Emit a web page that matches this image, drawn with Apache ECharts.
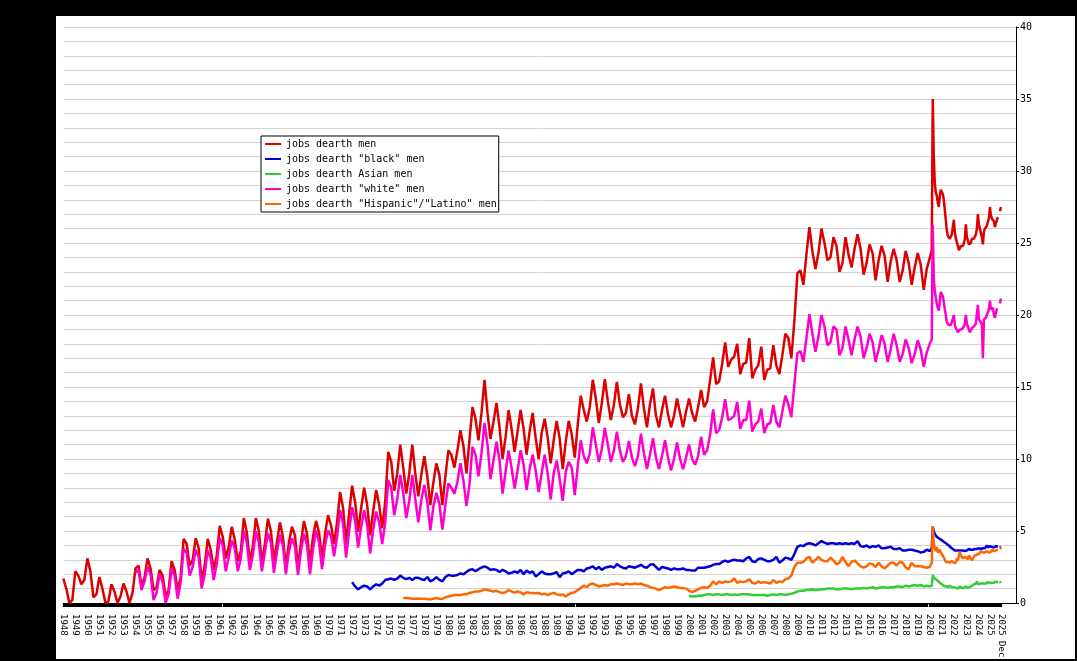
<!DOCTYPE html>
<html><head><meta charset="utf-8">
<script src="https://cdn.jsdelivr.net/npm/echarts@6/dist/echarts.min.js"></script>
<style>
html,body{margin:0;padding:0;background:#000;width:1077px;height:661px;overflow:hidden}
#panel{position:absolute;left:56px;top:16px;width:1019px;height:643px;background:#fff}
#chart{width:1019px;height:643px}
</style></head><body><div id="panel"><div id="chart"></div></div>
<script>
// ---- axis definitions ----
const FIRST_YEAR = 1948;
const LAST_YEAR = 2025;
const PAD_MONTHS = 15;
const quarterMonths = [0, 3, 6, 9];      // Jan, Apr, Jul, Oct samples
const monthlyFromYear = 2020;             // monthly samples from Jan 2020 on
const yTicks = [0, 5, 10, 15, 20, 25, 30, 35, 40];

const seriesNames = [
  'jobs dearth men',
  'jobs dearth "black" men',
  'jobs dearth Asian men',
  'jobs dearth "white" men',
  'jobs dearth "Hispanic"/"Latino" men'
];
const seriesColors = ['#dd0000', '#0000dd', '#33cc33', '#ff00cc', '#ff6600'];

// ---- men (all) ----
const menStart = 1948;
const menQuarterly = [
  1.7, 1.0, 0, 0.2,
  2.2, 1.9, 1.3, 1.6,
  3.1, 2.2, 0.4, 0.6,
  1.8, 1.0, 0, 0.1,
  1.3, 0.8, 0, 0.45,
  1.35, 0.8, 0, 0.7,
  2.4, 2.6, 1.2, 1.75,
  3.1, 2.4, 0.9, 1.1,
  2.3, 1.9, 0.5, 0.9,
  2.9, 2.3, 0.9, 1.8,
  4.45, 4.1, 2.6, 3.0,
  4.5, 3.8, 1.5, 2.6,
  4.45, 3.7, 2.3, 3.3,
  5.35, 4.6, 3.1, 3.9,
  5.3, 4.4, 2.9, 3.6,
  5.9, 4.9, 2.9, 3.9,
  5.9, 5.0, 2.8, 4.1,
  5.85, 5.0, 2.9, 4.2,
  5.6, 4.6, 2.5, 4.2,
  5.3, 4.7, 2.5, 4.2,
  5.7, 4.8, 2.7, 4.6,
  5.7, 4.9, 3.1, 4.8,
  6.1, 5.4, 4.1, 5.6,
  7.7, 6.6, 4.1, 6.2,
  8.15, 7.0, 4.95, 6.6,
  8.0, 6.8, 4.7, 6.4,
  7.85, 6.8, 5.2, 7.0,
  10.5, 9.8, 7.8, 9.0,
  11.0, 9.4, 7.6, 9.0,
  11.0, 9.0, 7.4, 8.9,
  10.2, 8.8, 6.8, 8.35,
  9.7, 8.9, 6.8, 8.8,
  10.6, 10.3, 9.4, 10.6,
  12.0, 10.9, 9.0, 11.3,
  13.6, 12.8, 11.3, 13.2,
  15.5, 13.2, 11.4, 12.6,
  13.9, 12.2, 10.0, 11.5,
  13.4, 12.1, 10.5, 11.9,
  13.4, 12.1, 10.3, 11.9,
  13.2, 11.5, 10.0, 11.8,
  12.8, 11.5, 9.7, 11.3,
  12.65, 11.4, 9.3, 11.2,
  12.65, 11.7, 10.1, 12.4,
  14.4, 13.4, 12.6, 13.6,
  15.5, 14.2, 12.5, 13.9,
  15.55, 14.0, 12.7, 13.75,
  15.35, 13.8, 12.9, 13.2,
  14.5, 13.0, 12.4, 13.5,
  15.25, 13.5, 12.2, 13.8,
  14.9, 13.0, 12.2, 13.4,
  14.4, 13.1, 12.2, 13.0,
  14.2, 13.2, 12.2, 13.3,
  14.2, 13.2, 12.6, 13.6,
  14.8, 13.6, 14.0, 15.5,
  17.05, 15.2, 15.4, 16.6,
  18.1, 16.4, 16.9, 17.1,
  18.0, 15.9, 16.6, 16.7,
  18.4, 15.6, 16.2, 16.5,
  17.8, 15.5, 16.2, 16.3,
  17.9, 16.5, 15.9, 17.2,
  18.7, 18.4, 17.0, 19.6,
  22.9, 23.1, 22.1, 24.2,
  26.1, 24.4, 23.2, 24.3,
  26.0, 25.0, 23.8, 24.0,
  25.4, 24.8, 23.0, 23.6,
  25.4, 24.2, 23.3, 24.6,
  25.6, 24.6, 22.8, 23.6,
  24.9, 24.3, 22.4, 23.8,
  24.8, 24.1, 22.3, 23.7,
  24.6, 23.8, 22.3, 23.1,
  24.45, 23.6, 22.1, 23.3,
  24.3, 23.5, 21.75, 23.2
];
const menMonthly = [
  23.95, 23.9, 24.5, 35.0, 31.0, 29.2, 28.5, 28.3, 27.8, 27.5, 28.2, 28.7,
  28.7, 28.4, 28.0, 27.3, 26.6, 25.9, 25.5, 25.6, 25.3, 25.3, 25.6, 25.6,
  26.6, 25.8, 25.3, 25.2, 24.8, 24.5, 24.4, 24.8, 24.9, 24.8, 25.0, 25.3,
  26.3, 25.4, 25.2, 24.9, 25.0, 25.0, 25.3, 25.2, 25.3, 25.4, 25.6, 26.0,
  27.0, 26.3, 26.0, 25.9, 25.4, 24.9, 25.8, 26.0, 26.1, 26.2, 26.5, 26.7,
  27.5, 26.9, 26.7, 26.8, 26.5, 26.1, 26.4, 26.6, 26.8, null, 27.2, 27.5
];

// ---- "black" men ----
const blackStart = 1972;
const blackQuarterly = [
  1.45, 1.15, 0.95, 1.1,
  1.2, 1.15, 0.95, 1.15,
  1.3, 1.2, 1.35, 1.6,
  1.65, 1.7, 1.6, 1.7,
  1.9, 1.75, 1.65, 1.75,
  1.6, 1.75, 1.75, 1.65,
  1.6, 1.8, 1.5, 1.6,
  1.8, 1.6, 1.5, 1.8,
  1.95, 1.9, 1.9, 1.95,
  2.05, 2.0, 2.15, 2.3,
  2.35, 2.2, 2.35, 2.45,
  2.55, 2.45, 2.3, 2.35,
  2.3, 2.15, 2.3, 2.2,
  2.05, 2.1, 2.2, 2.1,
  2.3, 2.0, 2.25, 2.1,
  2.2, 1.85, 2.0, 2.2,
  2.05, 2.0, 2.0, 2.05,
  2.15, 1.8, 2.05, 2.1,
  2.2, 2.0, 2.15, 2.3,
  2.3, 2.2, 2.4, 2.45,
  2.55, 2.35, 2.5, 2.3,
  2.45, 2.5, 2.55, 2.45,
  2.7, 2.55, 2.45, 2.4,
  2.55, 2.5, 2.45, 2.55,
  2.65, 2.5, 2.45, 2.65,
  2.7, 2.5, 2.3, 2.5,
  2.45, 2.4, 2.3, 2.4,
  2.35, 2.35, 2.4, 2.3,
  2.3, 2.25, 2.25, 2.45,
  2.45, 2.45, 2.5, 2.55,
  2.65, 2.7, 2.7, 2.85,
  2.95, 2.85, 2.95, 3.0,
  2.95, 2.95, 2.9, 3.1,
  3.2, 2.9, 2.85, 3.05,
  3.1, 3.0, 2.9, 2.9,
  3.0, 3.2, 2.8, 2.95,
  3.15, 3.1, 3.0, 3.4,
  3.9, 4.0, 3.95, 4.1,
  4.15, 4.1, 4.0, 4.15,
  4.3, 4.2, 4.1, 4.15,
  4.15, 4.1, 4.15, 4.1,
  4.15, 4.1, 4.15, 4.1,
  4.3, 3.95, 3.9, 4.0,
  3.85, 3.95, 3.9, 4.0,
  3.8, 3.8, 3.85, 3.9,
  3.75, 3.75, 3.8, 3.65,
  3.65, 3.7, 3.7, 3.65,
  3.6, 3.5, 3.55, 3.7
];
const blackMonthly = [
  3.6, 3.55, 3.8, 5.3, 5.0, 4.8, 4.7, 4.6, 4.55, 4.5, 4.45, 4.4,
  4.35, 4.3, 4.25, 4.2, 4.15, 4.1, 4.05, 4.0, 3.9, 3.85, 3.8, 3.75,
  3.7, 3.65, 3.7, 3.65, 3.6, 3.65, 3.7, 3.65, 3.7, 3.65, 3.7, 3.6,
  3.7, 3.65, 3.7, 3.75, 3.65, 3.7, 3.75, 3.7, 3.7, 3.75, 3.7, 3.75,
  3.7, 3.8, 3.7, 3.75, 3.7, 3.8, 3.75, 3.8, 3.9, 4.0, 3.85, 3.8,
  3.95, 3.85, 3.9, 3.9, 3.85, 3.9, 3.95, 3.85, 3.9, null, 3.85, 3.9
];

// ---- Asian men ----
const asianStart = 2000;
const asianQuarterly = [
  0.5, 0.45, 0.45, 0.5,
  0.5, 0.55, 0.6, 0.6,
  0.55, 0.6, 0.6, 0.55,
  0.6, 0.6, 0.55, 0.6,
  0.55, 0.6, 0.6, 0.6,
  0.6, 0.55, 0.55, 0.55,
  0.55, 0.55, 0.5, 0.55,
  0.6, 0.55, 0.6, 0.6,
  0.55, 0.6, 0.65, 0.7,
  0.8, 0.85, 0.85, 0.9,
  0.9, 0.95, 0.9, 0.9,
  0.95, 0.95, 1.0, 1.0,
  1.0, 0.95, 0.95, 1.0,
  1.0, 1.0, 0.95, 1.0,
  1.0, 1.0, 1.05, 1.0,
  1.05, 1.1, 1.0, 1.05,
  1.1, 1.1, 1.05, 1.1,
  1.1, 1.15, 1.15, 1.1,
  1.2, 1.15, 1.2, 1.25,
  1.2, 1.25, 1.15, 1.2
];
const asianMonthly = [
  1.15, 1.1, 1.2, 1.95, 1.75, 1.7, 1.65, 1.6, 1.55, 1.5, 1.4, 1.35,
  1.3, 1.25, 1.2, 1.15, 1.15, 1.1, 1.1, 1.15, 1.2, 1.15, 1.1, 1.15,
  1.1, 1.0, 1.05, 1.1, 1.0, 1.05, 1.15, 1.1, 1.05, 1.0, 1.05, 1.1,
  1.15, 1.1, 1.05, 1.0, 1.1, 1.15, 1.2, 1.25, 1.3, 1.3, 1.35, 1.5,
  1.3, 1.4, 1.35, 1.3, 1.35, 1.4, 1.35, 1.4, 1.35, 1.4, 1.45, 1.4,
  1.4, 1.45, 1.4, 1.35, 1.4, 1.45, 1.5, 1.45, 1.4, null, 1.5, 1.4
];

// ---- "white" men ----
const whiteStart = 1954;
const whiteQuarterly = [
  2.1, 2.3, 0.9, 1.5,
  2.5, 2.0, 0.2, 0.7,
  2.0, 1.5, 0.0, 0.6,
  2.4, 1.9, 0.3, 1.4,
  3.75, 3.5, 1.9, 2.5,
  3.7, 3.2, 1.0, 2.0,
  3.65, 3.1, 1.6, 2.7,
  4.5, 4.0, 2.2, 3.2,
  4.35, 3.8, 2.2, 3.1,
  5.0, 4.2, 2.3, 3.3,
  5.0, 4.2, 2.2, 3.5,
  4.85, 4.2, 2.1, 3.5,
  4.75, 4.0, 2.0, 3.6,
  4.5, 3.9, 1.95, 3.6,
  4.8, 4.0, 2.0, 3.7,
  5.05, 4.2, 2.35, 4.0,
  5.05, 4.6, 3.25, 4.6,
  6.45, 5.5, 3.15, 5.0,
  6.65, 5.7, 3.85, 5.3,
  6.45, 5.4, 3.45, 5.1,
  6.35, 5.6, 4.1, 5.6,
  8.55, 8.0, 6.1, 7.2,
  8.9, 7.6, 5.9, 7.1,
  8.9, 7.2, 5.6, 7.15,
  8.2, 7.0, 5.05, 6.7,
  7.65, 6.9, 5.1, 6.8,
  8.3, 8.0, 7.6, 8.4,
  9.7, 8.5, 6.75, 8.2,
  10.85, 10.3, 8.8, 10.4,
  12.5, 11.0, 8.6, 9.9,
  11.2, 9.9, 7.6, 9.1,
  10.6, 9.4, 7.95, 9.2,
  10.6, 9.6, 7.85, 9.3,
  10.3, 9.2, 7.7, 9.0,
  10.3, 9.0, 7.2, 9.0,
  9.9, 8.6, 7.1, 9.1,
  9.8, 9.4, 7.5, 9.5,
  11.3, 10.2, 9.7, 10.4,
  12.2, 11.0, 9.8, 10.7,
  12.15, 11.0, 9.8, 10.6,
  11.9, 10.6, 9.8, 10.2,
  11.25, 10.1, 9.5, 10.2,
  11.75, 10.4, 9.3, 10.3,
  11.45, 10.1, 9.3, 10.2,
  11.3, 10.1, 9.2, 10.0,
  11.15, 10.0, 9.3, 10.1,
  11.0, 10.0, 9.6, 10.2,
  11.55, 10.3, 10.6, 11.7,
  13.45, 11.8, 12.0, 12.9,
  14.15, 12.7, 12.8, 13.0,
  13.95, 12.1, 12.7, 12.7,
  14.05, 11.9, 12.4, 12.6,
  13.5, 11.8, 12.4, 12.5,
  13.75, 12.6, 12.2, 13.3,
  14.4, 13.8, 12.9, 15.2,
  17.35, 17.5, 16.75, 18.4,
  20.05, 18.7, 17.45, 18.5,
  20.0, 19.2, 17.9, 18.1,
  19.2, 19.0, 17.2, 17.7,
  19.2, 18.3, 17.2, 18.3,
  19.2, 18.5, 17.0, 17.7,
  18.7, 18.1, 16.75, 17.6,
  18.6, 18.0, 16.75, 17.6,
  18.7, 17.9, 16.75, 17.3,
  18.3, 17.7, 16.65, 17.3,
  18.25, 17.6, 16.4, 17.4
];
const whiteMonthly = [
  18.0, 17.9, 18.3, 26.25, 22.5, 21.7, 21.2, 20.8, 20.5, 20.3, 20.9, 21.6,
  21.7, 21.3, 20.9, 20.4, 20.0, 19.5, 19.4, 19.3, 19.2, 19.3, 19.5, 19.6,
  20.0, 19.3, 19.1, 19.2, 18.8, 18.7, 19.0, 19.1, 19.0, 19.1, 19.2, 19.4,
  20.0, 19.4, 19.2, 19.0, 18.8, 18.7, 19.1, 19.2, 19.2, 19.3, 19.4, 19.5,
  20.7, 19.7, 19.6, 19.5, 19.3, 17.0, 19.7, 19.6, 19.8, 20.0, 20.1, 20.4,
  21.0, 20.4, 20.5, 20.5, 20.0, 19.8, 20.2, 20.4, 20.4, null, 20.8, 21.15
];

// ---- "Hispanic"/"Latino" men ----
const hispanicStart = 1976;
const hispanicQuarterly = [
  null, 0.35, 0.35, 0.33,
  0.3, 0.3, 0.32, 0.3,
  0.3, 0.27, 0.25, 0.3,
  0.35, 0.3, 0.28, 0.4,
  0.45, 0.5, 0.55, 0.55,
  0.55, 0.6, 0.6, 0.7,
  0.75, 0.8, 0.8, 0.85,
  0.95, 0.9, 0.85, 0.8,
  0.85, 0.75, 0.7, 0.75,
  0.9, 0.8, 0.72, 0.8,
  0.75, 0.6, 0.75, 0.72,
  0.7, 0.68, 0.7, 0.6,
  0.65, 0.55, 0.65, 0.7,
  0.6, 0.55, 0.6, 0.45,
  0.6, 0.7, 0.75, 0.9,
  1.05, 1.2, 1.1, 1.3,
  1.35, 1.25, 1.15, 1.2,
  1.25, 1.2, 1.3, 1.3,
  1.35, 1.3, 1.25, 1.35,
  1.3, 1.3, 1.35, 1.3,
  1.35, 1.25, 1.2, 1.1,
  1.05, 1.0, 0.9, 1.0,
  1.1, 1.05, 1.1, 1.15,
  1.1, 1.05, 1.05, 1.0,
  0.85, 0.75, 0.85, 0.95,
  1.05, 1.1, 1.05, 1.2,
  1.5, 1.3, 1.5, 1.4,
  1.5, 1.45, 1.5, 1.7,
  1.4, 1.5, 1.45, 1.5,
  1.65, 1.4, 1.35, 1.5,
  1.4, 1.45, 1.4, 1.35,
  1.6, 1.4, 1.5, 1.45,
  1.65, 1.7, 1.9, 2.5,
  2.8, 2.8, 2.85, 3.1,
  3.2, 2.8, 3.0, 3.2,
  3.0, 2.9, 2.9, 3.15,
  2.95, 2.7, 2.8, 3.2,
  2.85, 2.55, 2.85, 2.95,
  2.75, 2.55, 2.45, 2.55,
  2.75, 2.7, 2.5, 2.8,
  2.55, 2.4, 2.6, 2.8,
  2.8, 2.6, 2.85, 2.8,
  2.45, 2.35, 2.8, 2.55,
  2.55, 2.55, 2.5, 2.45
];
const hispanicMonthly = [
  2.5, 2.45, 2.8, 5.35, 4.2, 3.8, 3.6, 3.9, 3.5, 3.45, 3.7, 3.5,
  3.4, 3.3, 3.2, 3.0, 2.85, 2.8, 2.85, 2.9, 2.8, 2.75, 2.9, 3.0,
  2.8, 2.75, 2.8, 3.1, 2.95, 2.85, 3.55, 3.3, 3.25, 3.1, 3.0, 3.2,
  3.25, 3.15, 3.0, 3.3, 3.4, 3.1, 2.95, 3.1, 3.2, 3.3, 3.25, 3.35,
  3.45, 3.4, 3.4, 3.6, 3.7, 3.5, 3.45, 3.5, 3.55, 3.6, 3.65, 3.5,
  3.6, 3.55, 3.7, 3.65, 3.6, 3.55, 3.65, 3.75, 3.7, null, 3.75, 3.85
];

// ---- build categories (one per month) ----
const nMonths = (LAST_YEAR - FIRST_YEAR + 1) * 12;
const categories = [];
for (let i = 0; i < nMonths + PAD_MONTHS; i++) {
  if (i < nMonths) {
    const y = FIRST_YEAR + Math.floor(i / 12);
    const m = i % 12 + 1;
    categories.push(y + '-' + (m < 10 ? '0' + m : m));
  } else {
    categories.push('pad' + i);
  }
}
function buildData(startYear, quarterly, monthly) {
  const pts = [];
  quarterly.forEach((v, i) => {
    const yr = startYear + Math.floor(i / 4);
    const idx = (yr - FIRST_YEAR) * 12 + quarterMonths[i % 4];
    pts.push([idx, v === null ? '-' : v]);
  });
  monthly.forEach((v, i) => {
    const idx = (monthlyFromYear - FIRST_YEAR) * 12 + i;
    pts.push([idx, v === null ? '-' : v]);
  });
  return pts;
}
const seriesData = [
  buildData(menStart, menQuarterly, menMonthly),
  buildData(blackStart, blackQuarterly, blackMonthly),
  buildData(asianStart, asianQuarterly, asianMonthly),
  buildData(whiteStart, whiteQuarterly, whiteMonthly),
  buildData(hispanicStart, hispanicQuarterly, hispanicMonthly)
];

const FONT = 'DejaVu Sans Mono';
const monthTick = (i) => i < nMonths;
const yearTick = (i) => i < nMonths && (i % 12 === 0 || i === nMonths - 1);

const chart = echarts.init(document.getElementById('chart'), null, {renderer: 'canvas'});
chart.setOption({
  animation: false,
  backgroundColor: '#fff',
  grid: {left: 7.3, right: 59, top: 11, bottom: 56, containLabel: false, outerBoundsMode: 'none'},
  legend: {
    left: 205, top: 120, orient: 'vertical',
    itemWidth: 16, itemHeight: 10, itemGap: 5,
    padding: [3, 2, 3, 3],
    borderColor: '#000', borderWidth: 1, backgroundColor: '#fff',
    itemStyle: {color: 'rgba(0,0,0,0)', borderColor: 'rgba(0,0,0,0)', borderWidth: 0, opacity: 0},
    lineStyle: {width: 2},
    textStyle: {fontFamily: FONT, fontSize: 10, color: '#000'},
    data: seriesNames
  },
  xAxis: [
    {
      type: 'category', data: categories, boundaryGap: false,
      axisLine: {show: true, onZero: false, lineStyle: {color: '#000', width: 1}},
      axisTick: {show: true, interval: monthTick, length: 4, lineStyle: {color: '#000', width: 1.2}},
      axisLabel: {show: false},
      splitLine: {show: false}
    },
    {
      type: 'category', data: categories, boundaryGap: false,
      position: 'bottom', offset: 7,
      axisLine: {show: false},
      axisTick: {show: true, interval: yearTick, length: 3, lineStyle: {color: '#000', width: 1}},
      axisLabel: {
        show: true, interval: yearTick, rotate: -90, margin: 4,
        fontFamily: FONT, fontSize: 9, color: '#000',
        formatter: function (val, idx) {
          const y = val.slice(0, 4);
          return idx === nMonths - 1 ? y + ' Dec' : y;
        }
      },
      splitLine: {show: false}
    }
  ],
  yAxis: {
    type: 'value', position: 'right', min: yTicks[0], max: yTicks[yTicks.length - 1], interval: 5,
    axisLine: {show: true, lineStyle: {color: '#000', width: 1}},
    axisTick: {show: true, length: 3, lineStyle: {color: '#000'}},
    axisLabel: {margin: 4, fontFamily: FONT, fontSize: 10, color: '#000'},
    splitLine: {show: true, lineStyle: {color: '#d4d4d4', width: 1}},
    minorTick: {show: false, splitNumber: 5},
    minorSplitLine: {show: true, lineStyle: {color: '#d4d4d4', width: 1}}
  },
  series: seriesNames.map((name, k) => ({
    name: name, type: 'line', xAxisIndex: 0, data: seriesData[k],
    symbol: 'none', showSymbol: false, connectNulls: false,
    color: seriesColors[k],
    lineStyle: {color: seriesColors[k], width: 2.5},
    z: 2 + k
  }))
});
</script></body></html>
